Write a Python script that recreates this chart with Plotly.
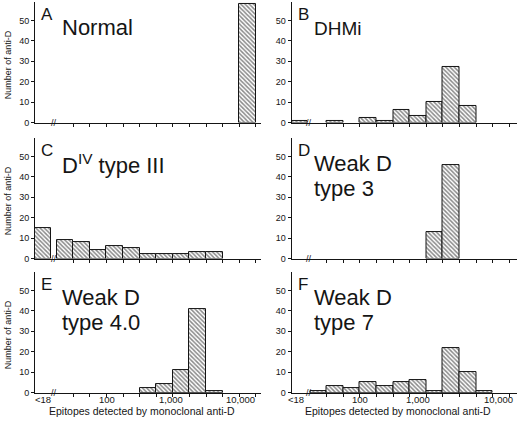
import plotly.graph_objects as go

W, H = 520, 425

# ---------------- data ----------------
# bin 0 = "<18", bins 1..12 = successive epitope-density bins (left to right)
PANEL_LETTERS = ["A", "B", "C", "D", "E", "F"]
PANEL_TITLES = [
    ["Normal"],
    ["DHMi"],
    ["D<sup>IV</sup> type III"],
    ["Weak D", "type 3"],
    ["Weak D", "type 4.0"],
    ["Weak D", "type 7"],
]
COUNTS_A = [0, 0, 0, 0, 0, 0, 0, 0, 0, 0, 0, 0, 58]
COUNTS_B = [1, 0, 1, 0, 2, 1, 6, 3, 10, 27, 8, 0, 0]
COUNTS_C = [15, 9, 8, 4, 6, 5, 2, 2, 2, 3, 3, 0, 0]
COUNTS_D = [0, 0, 0, 0, 0, 0, 0, 0, 13, 46, 0, 0, 0]
COUNTS_E = [0, 0, 0, 0, 0, 0, 2, 4, 11, 41, 1, 0, 0]
COUNTS_F = [0, 1, 3, 2, 5, 3, 5, 6, 1, 22, 10, 1, 0]
Y_TICKS = [0, 10, 20, 30, 40, 50]
X_TICK_LABELS = ["<18", "100", "1,000", "10,000"]
X_TITLE = "Epitopes detected by monoclonal anti-D"
Y_TITLE = "Number of anti-D"

ALL_COUNTS = [COUNTS_A, COUNTS_B, COUNTS_C, COUNTS_D, COUNTS_E, COUNTS_F]

# ---------------- geometry ----------------
X_RANGE = [0, 13.6]
Y_RANGE = [0, 59]
BIN_OFFSET = [1.3, 1.12]          # where regular bins start, per column
BREAK_X = [1.15, 1.04]
X_TICK_POS = [[0.48, 4.35, 8.2, 12.4], [0.3, 4.12, 7.6, 12.45]]

COL_LEFT = [35.0, 291.5]
ROW_TOP = [2.0, 139.7, 275.3]
AX_W = 225.8
AX_H = 122.0


def bin_center(i, off):
    return 0.48 if i == 0 else off + (i - 1) + 0.5


def bin_width(i):
    return 0.96 if i == 0 else 1.0


def px_x(v):
    return v / W


def px_y(v):
    return 1 - v / H


INK = "#151515"
FONT = "Liberation Sans"

fig = go.Figure()
annotations = []
layout_axes = {}

for p, counts in enumerate(ALL_COUNTS):
    col, row = p % 2, p // 2
    suf = "" if p == 0 else str(p + 1)
    left = COL_LEFT[col]
    top = ROW_TOP[row]
    off = BIN_OFFSET[col]
    xs = [bin_center(i, off) for i, c in enumerate(counts) if c > 0]
    ys = [c for c in counts if c > 0]
    ws = [bin_width(i) for i, c in enumerate(counts) if c > 0]
    fig.add_trace(go.Bar(
        x=xs, y=ys, width=ws,
        xaxis="x" + suf, yaxis="y" + suf,
        marker=dict(
            color="white",
            line=dict(color=INK, width=1),
            pattern=dict(shape="\\", size=3, solidity=0.5,
                         fgcolor=INK, bgcolor="white"),
        ),
        showlegend=False, hoverinfo="skip",
    ))
    bottom = row == 2
    edge_ticks = [off + 1 + k for k in range(13) if off + 1 + k <= X_RANGE[1]]
    layout_axes["xaxis" + suf] = dict(
        domain=[px_x(left), px_x(left + AX_W)],
        range=X_RANGE, anchor="y" + suf,
        showline=True, linecolor=INK, linewidth=1,
        showgrid=False, zeroline=False,
        ticks="outside", ticklen=3, tickwidth=1, tickcolor=INK,
        tickmode="array", tickvals=edge_ticks,
        showticklabels=False,
        fixedrange=True,
    )
    layout_axes["yaxis" + suf] = dict(
        domain=[px_y(top + AX_H), px_y(top)],
        range=Y_RANGE, anchor="x" + suf,
        showline=True, linecolor=INK, linewidth=1,
        showgrid=False, zeroline=False,
        ticks="outside", ticklen=3, tickcolor=INK,
        tickvals=Y_TICKS,
        tickfont=dict(family=FONT, size=9, color=INK),
        fixedrange=True,
    )

    # panel letter
    annotations.append(dict(
        text=PANEL_LETTERS[p], xref="paper", yref="paper",
        x=px_x(left + 4), y=px_y(top + 19 - 0.36 * 17),
        xanchor="left", yanchor="middle", showarrow=False,
        font=dict(family=FONT, size=17, color=INK),
    ))
    # panel title lines
    tsize = 19 if p == 1 else 22
    tx = left + (25 if col == 0 else 20.5)
    for li, line in enumerate(PANEL_TITLES[p]):
        base = top + 34 + li * 25
        annotations.append(dict(
            text=line, xref="paper", yref="paper",
            x=px_x(tx), y=px_y(base - 0.36 * tsize),
            xanchor="left", yanchor="middle", showarrow=False,
            font=dict(family=FONT, size=tsize, color=INK),
        ))
    # axis break mark
    annotations.append(dict(
        text="//", xref="x" + suf, yref="y" + suf, x=BREAK_X[col], y=0,
        xanchor="center", yanchor="middle", showarrow=False,
        font=dict(family=FONT, size=9, color=INK),
    ))
    # y title on left column
    if col == 0:
        annotations.append(dict(
            text=Y_TITLE, xref="paper", yref="paper",
            x=px_x(8), y=px_y(top + AX_H / 2 + 3), textangle=-90,
            xanchor="center", yanchor="middle", showarrow=False,
            font=dict(family=FONT, size=9, color=INK),
        ))
    # x tick labels and x title on bottom row
    if bottom:
        for pos, lab in zip(X_TICK_POS[col], X_TICK_LABELS):
            annotations.append(dict(
                text=lab, xref="x" + suf, yref="y" + suf, x=pos, y=0,
                xanchor="center", yanchor="middle", yshift=-7,
                showarrow=False,
                font=dict(family=FONT, size=9.5, color=INK),
            ))
        annotations.append(dict(
            text=X_TITLE, xref="paper", yref="paper",
            x=px_x(left + AX_W / 2 - 6), y=px_y(416),
            xanchor="center", yanchor="middle", showarrow=False,
            font=dict(family=FONT, size=10.5, color=INK),
        ))

fig.update_layout(
    width=W, height=H,
    margin=dict(l=0, r=0, t=0, b=0),
    paper_bgcolor="white", plot_bgcolor="white",
    bargap=0,
    annotations=annotations,
    **layout_axes,
)

fig.write_html("out.html", config={"displayModeBar": False},
               post_script="document.body.style.margin='0';")
